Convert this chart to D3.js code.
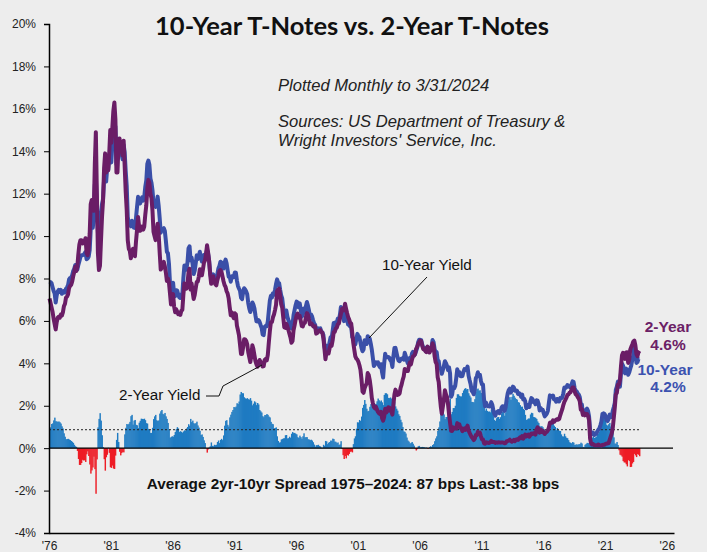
<!DOCTYPE html>
<html>
<head>
<meta charset="utf-8">
<script src="https://cdn.jsdelivr.net/npm/d3@7"></script>
<style>
  body { margin: 0; background: #ededed; }
  svg { display: block; }
</style>
</head>
<body>
<svg width="707" height="552" font-family="'Liberation Sans', Arial, sans-serif"></svg>
<script>
// monthly yields, first point = June 1976, last = March 2024
var startYear = 1976;
var tenYear = [
  7.86, 7.83, 7.77, 7.59, 7.41, 7.29, 6.87,
  7.21, 7.39, 7.46, 7.37, 7.46, 7.28, 7.33, 7.40, 7.34, 7.52, 7.58, 7.69,
  7.96, 8.03, 8.04, 8.15, 8.35, 8.46, 8.64, 8.41, 8.42, 8.64, 8.81, 9.01,
  9.10, 9.10, 9.12, 9.18, 9.25, 8.91, 8.95, 9.03, 9.33, 10.30, 10.65, 10.39,
  10.80, 12.41, 12.75, 11.47, 10.18, 9.78, 10.25, 11.10, 11.51, 11.75, 12.68, 12.84,
  12.57, 13.19, 13.12, 13.68, 14.10, 13.47, 14.28, 14.94, 15.32, 15.15, 13.39, 13.72,
  14.59, 14.43, 13.86, 13.87, 13.62, 14.30, 13.95, 13.06, 12.34, 10.91, 10.55, 10.54,
  10.46, 10.72, 10.51, 10.40, 10.38, 10.85, 11.38, 11.85, 11.65, 11.54, 11.69, 11.83,
  11.67, 11.84, 12.32, 12.63, 13.41, 13.56, 13.36, 12.72, 12.52, 12.16, 11.57, 11.50,
  11.38, 11.51, 11.86, 11.43, 10.85, 10.16, 10.31, 10.33, 10.37, 10.24, 9.78, 9.26,
  9.19, 8.70, 7.78, 7.30, 7.71, 7.80, 7.30, 7.17, 7.45, 7.43, 7.25, 7.11,
  7.08, 7.25, 7.25, 8.02, 8.61, 8.40, 8.45, 8.76, 9.42, 9.52, 8.86, 8.99,
  8.67, 8.21, 8.37, 8.72, 9.09, 8.92, 9.06, 9.26, 8.98, 8.80, 8.96, 9.11,
  9.09, 9.17, 9.36, 9.18, 8.86, 8.28, 8.02, 8.11, 8.19, 8.01, 7.87, 7.84,
  8.21, 8.47, 8.59, 8.79, 8.76, 8.48, 8.47, 8.75, 8.89, 8.72, 8.39, 8.08,
  8.09, 7.85, 8.11, 8.04, 8.07, 8.28, 8.27, 7.90, 7.65, 7.53, 7.42, 7.09,
  7.03, 7.34, 7.54, 7.48, 7.39, 7.26, 6.84, 6.59, 6.42, 6.59, 6.87, 6.77,
  6.60, 6.26, 5.98, 5.97, 6.04, 5.96, 5.81, 5.68, 5.36, 5.33, 5.72, 5.77,
  5.75, 5.97, 6.48, 6.97, 7.18, 7.10, 7.30, 7.24, 7.46, 7.74, 7.96, 7.81,
  7.78, 7.47, 7.20, 7.06, 6.63, 6.17, 6.28, 6.49, 6.20, 6.04, 5.93, 5.71,
  5.65, 5.81, 6.27, 6.51, 6.74, 6.91, 6.87, 6.64, 6.83, 6.53, 6.20, 6.30,
  6.58, 6.42, 6.69, 6.89, 6.71, 6.49, 6.22, 6.30, 6.21, 6.03, 5.88, 5.81,
  5.54, 5.57, 5.65, 5.64, 5.65, 5.50, 5.46, 5.34, 4.81, 4.53, 4.83, 4.65,
  4.72, 5.00, 5.23, 5.18, 5.54, 5.90, 5.79, 5.94, 5.92, 6.11, 6.03, 6.28,
  6.66, 6.52, 6.26, 5.99, 6.44, 6.10, 6.05, 5.83, 5.80, 5.74, 5.72, 5.24,
  5.16, 5.10, 4.89, 5.14, 5.39, 5.28, 5.24, 4.97, 4.73, 4.57, 4.65, 5.09,
  5.04, 4.91, 5.28, 5.21, 5.16, 4.93, 4.65, 4.26, 3.87, 3.94, 4.05, 4.03,
  4.05, 3.90, 3.81, 3.96, 3.57, 3.33, 3.98, 4.45, 4.27, 4.29, 4.30, 4.27,
  4.15, 4.08, 3.83, 4.35, 4.72, 4.73, 4.50, 4.28, 4.13, 4.10, 4.19, 4.23,
  4.22, 4.17, 4.50, 4.34, 4.14, 4.00, 4.18, 4.26, 4.20, 4.46, 4.54, 4.47,
  4.42, 4.57, 4.72, 4.99, 5.11, 5.11, 5.09, 4.88, 4.72, 4.73, 4.60, 4.56,
  4.76, 4.72, 4.56, 4.69, 4.75, 5.10, 5.00, 4.67, 4.52, 4.53, 4.15, 4.10,
  3.74, 3.74, 3.51, 3.68, 3.88, 4.10, 4.01, 3.89, 3.69, 3.81, 3.53, 2.42,
  2.52, 2.87, 2.82, 2.93, 3.29, 3.72, 3.56, 3.59, 3.40, 3.39, 3.40, 3.59,
  3.73, 3.69, 3.73, 3.85, 3.42, 3.20, 3.01, 2.70, 2.65, 2.54, 2.76, 3.29,
  3.39, 3.58, 3.41, 3.46, 3.17, 3.00, 3.00, 2.30, 1.98, 2.15, 2.01, 1.98,
  1.97, 1.97, 2.17, 2.05, 1.80, 1.62, 1.53, 1.68, 1.72, 1.75, 1.65, 1.72,
  1.91, 1.98, 1.96, 1.76, 1.93, 2.30, 2.58, 2.74, 2.81, 2.62, 2.72, 2.90,
  2.86, 2.71, 2.72, 2.71, 2.56, 2.60, 2.54, 2.42, 2.53, 2.30, 2.33, 2.21,
  1.88, 1.98, 2.04, 1.94, 2.20, 2.36, 2.32, 2.17, 2.17, 2.07, 2.26, 2.24,
  2.09, 1.78, 1.89, 1.81, 1.81, 1.64, 1.50, 1.56, 1.63, 1.76, 2.14, 2.49,
  2.43, 2.42, 2.48, 2.30, 2.30, 2.19, 2.32, 2.21, 2.20, 2.36, 2.35, 2.40,
  2.58, 2.86, 2.84, 2.87, 2.98, 2.91, 2.89, 2.89, 3.00, 3.15, 3.12, 2.83,
  2.71, 2.68, 2.57, 2.53, 2.40, 2.07, 2.06, 1.63, 1.70, 1.71, 1.81, 1.86,
  1.76, 1.50, 0.87, 0.66, 0.67, 0.73, 0.62, 0.65, 0.68, 0.79, 0.87, 0.93,
  1.08, 1.26, 1.61, 1.64, 1.62, 1.52, 1.32, 1.28, 1.37, 1.58, 1.56, 1.47,
  1.76, 1.93, 2.13, 2.75, 2.90, 3.14, 2.90, 2.90, 3.52, 3.98, 3.89, 3.62,
  3.53, 3.75, 3.66, 3.46, 3.57, 3.75, 3.90, 4.17, 4.38, 4.80, 4.50, 4.02,
  4.06, 4.21, 4.21
];
var twoYear = [
  7.06, 6.85, 6.63, 6.42, 6.10, 5.85, 5.60,
  5.95, 6.15, 6.20, 6.15, 6.30, 6.25, 6.40, 6.70, 6.80, 7.10, 7.15, 7.25,
  7.55, 7.65, 7.70, 7.85, 8.10, 8.30, 8.55, 8.35, 8.55, 9.15, 9.60, 9.80,
  9.80, 9.65, 9.70, 9.75, 9.90, 9.20, 9.10, 9.40, 10.10, 11.50, 11.70, 11.30,
  11.20, 13.40, 14.90, 12.00, 9.20, 8.40, 8.60, 9.80, 10.90, 11.70, 13.20, 13.90,
  13.00, 13.50, 13.10, 13.90, 15.00, 14.40, 15.10, 15.90, 16.30, 15.50, 13.00, 13.00,
  14.30, 14.60, 14.20, 14.10, 13.80, 14.50, 13.30, 12.10, 11.20, 9.80, 9.40, 9.30,
  8.95, 9.15, 9.40, 9.10, 9.05, 9.75, 10.30, 10.90, 10.45, 10.25, 10.30, 10.45,
  10.30, 10.45, 11.00, 11.45, 12.25, 12.65, 12.50, 12.00, 11.80, 11.20, 10.20, 10.00,
  9.81, 10.19, 10.58, 10.12, 9.22, 8.42, 8.51, 8.71, 8.78, 8.58, 8.28, 7.88,
  8.00, 7.81, 7.29, 6.77, 7.15, 7.26, 6.68, 6.41, 6.55, 6.44, 6.32, 6.35,
  6.28, 6.48, 6.52, 7.23, 7.77, 7.57, 7.52, 7.76, 8.29, 8.46, 7.48, 7.76,
  7.37, 7.03, 7.22, 7.54, 7.84, 7.85, 8.09, 8.44, 8.36, 8.15, 8.43, 8.74,
  8.85, 9.16, 9.57, 9.24, 8.82, 8.19, 7.75, 8.00, 8.10, 7.85, 7.73, 7.68,
  7.92, 8.11, 8.35, 8.40, 8.32, 8.10, 7.87, 7.69, 7.60, 7.40, 7.29, 7.06,
  6.64, 6.27, 6.40, 6.24, 6.13, 6.36, 6.31, 5.78, 5.57, 5.33, 4.89, 4.44,
  4.44, 4.75, 5.14, 5.13, 5.06, 4.90, 4.53, 4.30, 4.06, 4.35, 4.85, 4.67,
  4.39, 4.10, 3.95, 3.84, 3.98, 4.16, 4.07, 4.00, 3.85, 3.87, 4.16, 4.21,
  4.14, 4.40, 4.99, 5.52, 5.94, 5.95, 6.17, 6.30, 6.51, 6.76, 7.40, 7.47,
  7.52, 7.19, 6.79, 6.63, 6.17, 5.70, 5.67, 5.87, 5.74, 5.57, 5.39, 5.22,
  4.97, 5.05, 5.56, 5.79, 6.06, 6.26, 6.35, 6.16, 6.24, 6.01, 5.76, 5.74,
  5.88, 5.91, 6.17, 6.37, 6.29, 6.08, 5.84, 5.90, 5.85, 5.75, 5.71, 5.74,
  5.40, 5.43, 5.49, 5.54, 5.57, 5.47, 5.44, 5.18, 4.70, 4.19, 4.51, 4.46,
  4.46, 4.71, 4.87, 4.83, 5.09, 5.47, 5.48, 5.64, 5.68, 5.84, 5.88, 6.10,
  6.33, 6.56, 6.59, 6.50, 6.81, 6.58, 6.37, 6.18, 6.07, 5.91, 5.88, 5.44,
  4.97, 4.64, 4.33, 4.22, 4.17, 4.07, 3.91, 3.69, 3.24, 2.67, 2.61, 2.82,
  2.95, 3.05, 3.54, 3.45, 3.21, 2.85, 2.37, 2.13, 1.94, 1.88, 1.96, 1.82,
  1.71, 1.64, 1.61, 1.71, 1.41, 1.30, 1.47, 1.86, 1.68, 1.75, 1.93, 1.91,
  1.76, 1.74, 1.58, 2.07, 2.53, 2.76, 2.64, 2.51, 2.53, 2.58, 2.85, 3.01,
  3.22, 3.38, 3.73, 3.65, 3.64, 3.64, 3.87, 4.04, 3.95, 4.17, 4.33, 4.35,
  4.45, 4.68, 4.77, 4.90, 5.00, 5.07, 5.04, 4.82, 4.67, 4.69, 4.58, 4.53,
  4.79, 4.75, 4.51, 4.60, 4.69, 4.95, 4.81, 4.34, 4.06, 3.97, 3.34, 3.12,
  2.48, 1.97, 1.62, 1.96, 2.29, 2.73, 2.54, 2.42, 2.08, 1.61, 1.21, 0.82,
  0.81, 0.98, 0.93, 0.93, 0.92, 1.18, 1.02, 1.12, 0.96, 0.95, 0.80, 0.87,
  0.93, 0.86, 0.96, 1.06, 0.83, 0.72, 0.62, 0.52, 0.47, 0.38, 0.45, 0.62,
  0.61, 0.77, 0.70, 0.73, 0.56, 0.41, 0.41, 0.23, 0.21, 0.28, 0.25, 0.26,
  0.24, 0.28, 0.34, 0.29, 0.29, 0.29, 0.25, 0.27, 0.26, 0.28, 0.27, 0.26,
  0.27, 0.27, 0.26, 0.23, 0.25, 0.33, 0.34, 0.36, 0.40, 0.34, 0.30, 0.34,
  0.39, 0.33, 0.40, 0.42, 0.39, 0.45, 0.51, 0.47, 0.57, 0.45, 0.53, 0.64,
  0.55, 0.62, 0.64, 0.54, 0.61, 0.69, 0.67, 0.70, 0.71, 0.64, 0.88, 0.98,
  0.90, 0.73, 0.88, 0.77, 0.82, 0.73, 0.67, 0.74, 0.77, 0.84, 0.98, 1.20,
  1.21, 1.20, 1.31, 1.24, 1.30, 1.34, 1.37, 1.34, 1.38, 1.55, 1.70, 1.84,
  2.03, 2.18, 2.28, 2.38, 2.51, 2.53, 2.61, 2.64, 2.77, 2.86, 2.86, 2.68,
  2.54, 2.50, 2.41, 2.34, 2.21, 1.81, 1.84, 1.57, 1.65, 1.55, 1.61, 1.61,
  1.52, 1.33, 0.45, 0.22, 0.17, 0.19, 0.14, 0.14, 0.13, 0.14, 0.17, 0.14,
  0.13, 0.12, 0.15, 0.16, 0.16, 0.20, 0.22, 0.22, 0.24, 0.39, 0.54, 0.69,
  0.94, 1.42, 1.91, 2.54, 2.61, 2.99, 3.00, 3.21, 3.86, 4.38, 4.50, 4.29,
  4.21, 4.51, 4.52, 4.02, 4.18, 4.64, 4.78, 4.89, 5.03, 5.07, 4.84, 4.44,
  4.34, 4.52, 4.59
];
var avgSpread = 0.87;
var yTicks = [-4, -2, 0, 2, 4, 6, 8, 10, 12, 14, 16, 18, 20];
var xTickYears = [1976, 1981, 1986, 1991, 1996, 2001, 2006, 2011, 2016, 2021, 2026];

var svg = d3.select("svg");
var sans = "'Liberation Sans', Arial, sans-serif";

var x = d3.scaleLinear().domain([0, 607]).range([49, 674]);
var y = d3.scaleLinear().domain([-4, 20]).range([533, 24]);

var spread = tenYear.map(function(d, i) { return +(d - twoYear[i]).toFixed(2); });
var barW = x(1) - x(0);

// spread bars
svg.append("g")
  .selectAll("rect")
  .data(spread)
  .enter().append("rect")
  .attr("x", function(d, i) { return x(i); })
  .attr("width", barW + 0.4)
  .attr("y", function(d) { return d >= 0 ? y(d) : y(0); })
  .attr("height", function(d) { return Math.abs(y(d) - y(0)); })
  .attr("fill", function(d) { return d >= 0 ? "#1f7bc2" : "#ee1c25"; });

// zero line
svg.append("line")
  .attr("x1", x(0)).attr("x2", 673)
  .attr("y1", y(0)).attr("y2", y(0))
  .attr("stroke", "#000").attr("stroke-width", 1.2);

// average spread
svg.append("line")
  .attr("x1", x(0)).attr("x2", x(tenYear.length))
  .attr("y1", y(avgSpread)).attr("y2", y(avgSpread))
  .attr("stroke", "#222").attr("stroke-width", 1)
  .attr("stroke-dasharray", "2,2");

var line = d3.line()
  .x(function(d, i) { return x(i + 0.5); })
  .y(function(d) { return y(d); });

svg.append("path")
  .datum(tenYear)
  .attr("d", line)
  .attr("fill", "none")
  .attr("stroke", "#3a4fa8")
  .attr("stroke-width", 4)
  .attr("stroke-linejoin", "round");

svg.append("path")
  .datum(twoYear)
  .attr("d", line)
  .attr("fill", "none")
  .attr("stroke", "#6a1d66")
  .attr("stroke-width", 4)
  .attr("stroke-linejoin", "round");

// axes
var yAxis = svg.append("g")
  .attr("transform", "translate(49,0)")
  .call(d3.axisLeft(y).tickValues(yTicks).tickSize(5).tickPadding(8)
    .tickFormat(function(d) { return d + "%"; }));
yAxis.select(".domain").attr("stroke", "#000").attr("stroke-width", 1.5);
yAxis.selectAll("text").attr("font-size", 12).attr("fill", "#222")
  .attr("font-family", sans);

var xAxis = svg.append("g")
  .attr("transform", "translate(0," + y(-4) + ")")
  .call(d3.axisBottom(x)
    .tickValues(xTickYears.map(function(yr) { return (yr - startYear) * 12; }))
    .tickSize(0).tickPadding(8)
    .tickFormat(function(d, i) { return "'" + String(xTickYears[i] % 100).padStart(2, "0"); }));
xAxis.select(".domain").attr("stroke", "#000").attr("stroke-width", 1.5);
xAxis.selectAll("text").attr("font-size", 12).attr("fill", "#222")
  .attr("font-family", sans);

// titles and notes
svg.append("text")
  .attr("x", 352).attr("y", 35)
  .attr("text-anchor", "middle")
  .attr("font-family", "Lato, sans-serif")
  .attr("font-weight", "bold").attr("font-size", 25.5)
  .attr("fill", "#111")
  .text("10-Year T-Notes vs. 2-Year T-Notes");

var notes = svg.append("g")
  .attr("font-family", sans)
  .attr("font-style", "italic").attr("font-size", 16.6).attr("fill", "#222");
notes.append("text").attr("x", 278).attr("y", 91).text("Plotted Monthly to 3/31/2024");
notes.append("text").attr("x", 278).attr("y", 127).text("Sources: US Department of Treasury &");
notes.append("text").attr("x", 278).attr("y", 146).text("Wright Investors' Service, Inc.");

svg.append("text")
  .attr("x", 353).attr("y", 489)
  .attr("text-anchor", "middle")
  .attr("font-family", sans)
  .attr("font-weight", "bold").attr("font-size", 15.3).attr("fill", "#111")
  .text("Average 2yr-10yr Spread 1975\u20132024: 87 bps Last:-38 bps");

// series annotations
svg.append("text")
  .attr("x", 382).attr("y", 270)
  .attr("font-family", sans)
  .attr("font-size", 15.2).attr("fill", "#111")
  .text("10-Year Yield");
svg.append("path")
  .attr("d", "M427,277L369,338")
  .attr("fill", "none").attr("stroke", "#111").attr("stroke-width", 1);

svg.append("text")
  .attr("x", 119).attr("y", 400)
  .attr("font-family", sans)
  .attr("font-size", 15.2).attr("fill", "#111")
  .text("2-Year Yield");
svg.append("path")
  .attr("d", "M206,396L219,396L223,386L262,365")
  .attr("fill", "none").attr("stroke", "#111").attr("stroke-width", 1);

var endLabels = svg.append("g")
  .attr("font-family", sans)
  .attr("text-anchor", "middle").attr("font-weight", "bold").attr("font-size", 15.5);
endLabels.append("text").attr("x", 668).attr("y", 332).attr("fill", "#6b2166").text("2-Year");
endLabels.append("text").attr("x", 668).attr("y", 350).attr("fill", "#6b2166").text("4.6%");
endLabels.append("text").attr("x", 665).attr("y", 375).attr("fill", "#3c52b0").text("10-Year");
endLabels.append("text").attr("x", 668).attr("y", 392).attr("fill", "#3c52b0").text("4.2%");
</script>
</body>
</html>
